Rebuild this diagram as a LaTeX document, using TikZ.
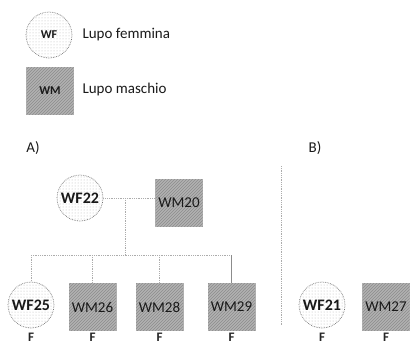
\documentclass[tikz,border=0pt]{standalone}
\usepackage{fontspec}
\setmainfont{Carlito}
\usetikzlibrary{patterns}
\begin{document}
\begin{tikzpicture}[x=1pt,y=-1pt,
  fem/.style={circle, draw=black!55, densely dotted, line width=0.7pt, minimum size=46pt, inner sep=0pt,
    fill=white, postaction={pattern=dots, pattern color=gray!55},
    font=\fontsize{16}{16}\selectfont\bfseries, text=black!90},
  mal/.style={rectangle, draw=gray!60, minimum size=47pt, inner sep=0pt,
    fill=gray!60, postaction={pattern=north east lines, pattern color=gray!90},
    font=\fontsize{15}{15}\selectfont, text=black!90},
  lbl/.style={font=\fontsize{15}{15}\selectfont, text=black!90},
  flbl/.style={font=\fontsize{13}{13}\selectfont\bfseries, text=black!85},
  link/.style={draw=gray!65, densely dotted, line width=0.8pt},
]
\useasboundingbox (0,0) rectangle (411,345);
% legend
\node[fem, font=\fontsize{12}{12}\selectfont\bfseries] (lwf) at (49,35) {WF};
\node[mal, font=\fontsize{12}{12}\selectfont\bfseries] (lwm) at (50,91) {WM};
\node[lbl, anchor=west] (lf) at (79,35) {Lupo femmina};
\node[lbl, anchor=west] (lm) at (79,89) {Lupo maschio};
% panel labels
\node[lbl] (la) at (33,148) {A)};
\node[lbl] (lb) at (315,148) {B)};
% parents
\node[fem] (wf22) at (80,198) {WF22};
\node[mal] (wm20) at (179,203) {WM20};
\coordinate (j1) at (125,198);
\coordinate (j2) at (125,255);
% children A
\node[fem] (wf25) at (31,305) {WF25};
\node[mal] (wm26) at (92.5,307) {WM26};
\node[mal] (wm28) at (159.5,307) {WM28};
\node[mal] (wm29) at (231.5,307) {WM29};
% children B
\node[fem] (wf21) at (322,305) {WF21};
\node[mal] (wm27) at (386,307) {WM27};
% F labels
\foreach \n in {wf25,wm26,wm28,wm29,wf21,wm27}
  \node[flbl] (f\n) at (\n |- 0,337) {F};
% connectors
\draw[link] (wf22.east) -- (wf22.east -| wm20.west);
\draw[link] (j1) -- (j2);
\coordinate (hl) at (wf25 |- j2);
\coordinate (hr) at (wm29 |- j2);
\draw[link] (hl) -- (hr);
\draw[link] (hl) -- (wf25.north);
\draw[link] (wm26 |- j2) -- (wm26.north);
\draw[link] (wm28 |- j2) -- (wm28.north);
\draw[link, draw=gray!90, solid, line width=0.6pt] (hr) -- (wm29.north);
% separator
\coordinate (s1) at (281,166);
\coordinate (s2) at (281,325);
\draw[link] (s1) -- (s2);
\end{tikzpicture}
\end{document}
